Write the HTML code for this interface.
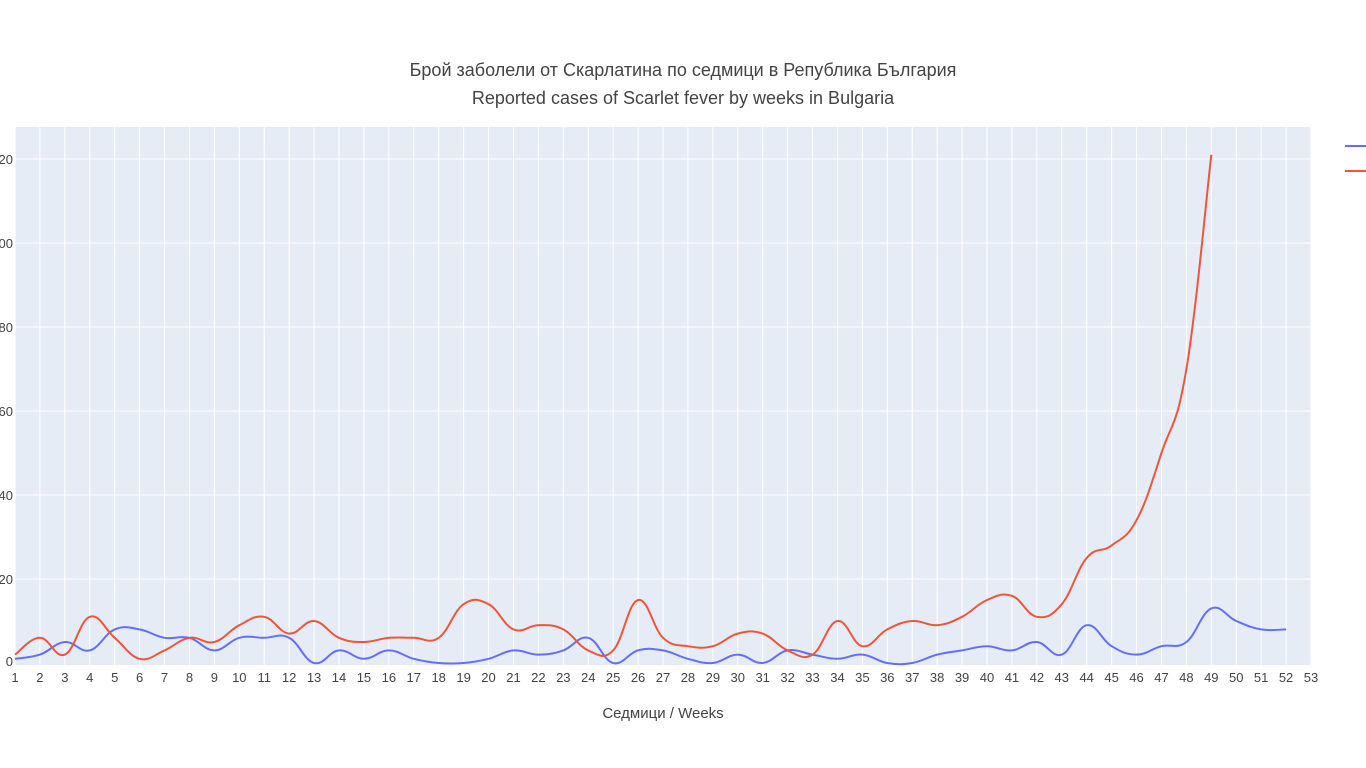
<!DOCTYPE html>
<html><head><meta charset="utf-8"><style>
body{margin:0;background:#fff;overflow:hidden}
svg{display:block;font-family:"Liberation Sans","DejaVu Sans",sans-serif}
</style></head><body>
<svg id="s" width="1366" height="768" viewBox="0 0 1366 768">
<rect width="1366" height="768" fill="#fff"/>
<rect x="15" y="127" width="1296" height="538" fill="#e5ecf6"/>
<g id="grid"></g>
<g id="lines"></g>
<text x="683" y="76" text-anchor="middle" font-size="18" fill="#444">Брой заболели от Скарлатина по седмици в Република България</text>
<text x="683" y="104" text-anchor="middle" font-size="18" fill="#444">Reported cases of Scarlet fever by weeks in Bulgaria</text>
<text x="663" y="718" text-anchor="middle" font-size="15" fill="#444">Седмици / Weeks</text>
<line x1="1345" y1="146" x2="1366" y2="146" stroke="#636efa" stroke-width="2"/>
<line x1="1345" y1="171" x2="1366" y2="171" stroke="#EF553B" stroke-width="2"/>
</svg>
<script>
const x0=15,dx=1296/52,y0=663,ky=4.2;
const X=w=>x0+(w-1)*dx, Y=v=>y0-v*ky;
let g='';
for(let w=1;w<=53;w++){g+=`<line x1="${X(w)}" y1="127" x2="${X(w)}" y2="665" stroke="#fff" stroke-width="1"/>`;
g+=`<text x="${X(w)}" y="682" text-anchor="middle" font-size="13" fill="#444">${w}</text>`;}
for(let v=20;v<=120;v+=20){g+=`<line x1="15" y1="${Y(v)}" x2="1311" y2="${Y(v)}" stroke="#fff" stroke-width="1"/>`;
g+=`<text x="13" y="${Y(v)+5}" text-anchor="end" font-size="13" fill="#444">${v}</text>`;}
g+=`<text x="13" y="${y0+3}" text-anchor="end" font-size="13" fill="#444">0</text>`;
document.getElementById('grid').innerHTML=g;
const blue=[1,2,5,3,8,8,6,6,3,6,6,6,0,3,1,3,1,0,0,1,3,2,3,6,0,3,3,1,0,2,0,3,2,1,2,0,0,2,3,4,3,5,2,9,4,2,4,5,13,10,8,8];
const red=[2,6,2,11,6,1,3,6,5,9,11,7,10,6,5,6,6,6,14,14,8,9,8,3,3,15,6,4,4,7,7,3,2,10,4,8,10,9,11,15,16,11,14,25,28,34,50,70,121];
function path(d){const p=d.map((v,i)=>[X(i+1),Y(v)]);let s=`M${p[0][0]},${p[0][1]}`;
for(let i=0;i<p.length-1;i++){const a=p[i-1]||p[i],b=p[i],c=p[i+1],e=p[i+2]||c,t=0.2;
s+=`C${b[0]+(c[0]-a[0])*t},${b[1]+(c[1]-a[1])*t} ${c[0]-(e[0]-b[0])*t},${c[1]-(e[1]-b[1])*t} ${c[0]},${c[1]}`;}return s;}
document.getElementById('lines').innerHTML=`<path d="${path(blue)}" fill="none" stroke="#636efa" stroke-width="2"/><path d="${path(red)}" fill="none" stroke="#EF553B" stroke-width="2"/>`;
</script>
</body></html>
